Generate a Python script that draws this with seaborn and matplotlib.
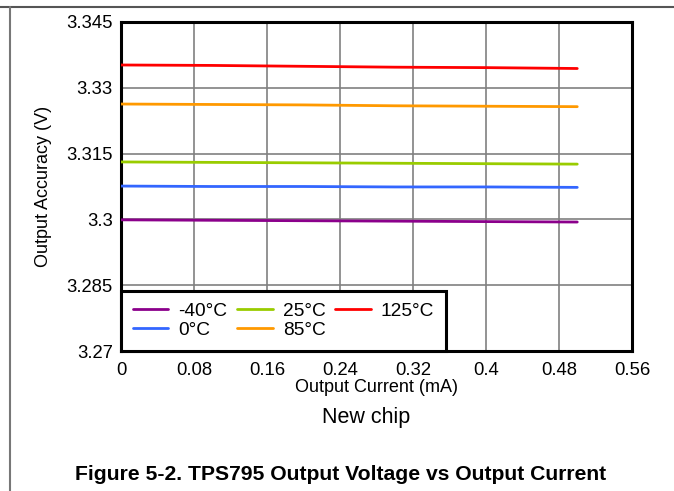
import matplotlib
matplotlib.use("Agg")
import matplotlib.pyplot as plt
import seaborn as sns
import pandas as pd
from matplotlib.lines import Line2D

current_ma = [0.0, 0.1, 0.2, 0.3, 0.4, 0.5]
v_m40 = [3.2999, 3.2998, 3.2997, 3.2996, 3.2995, 3.2994]
v_0 = [3.3076, 3.3075, 3.3075, 3.3074, 3.3074, 3.3073]
v_25 = [3.3131, 3.3130, 3.3129, 3.3128, 3.3127, 3.3126]
v_85 = [3.3263, 3.3262, 3.3261, 3.3259, 3.3258, 3.3257]
v_125 = [3.3352, 3.3351, 3.3349, 3.3347, 3.3346, 3.3344]
series_labels = ["-40°C", "0°C", "25°C", "85°C", "125°C"]
series_colors = ["#8B008B", "#3366FF", "#99CC00", "#FF9900", "#FF0000"]
x_ticks = [0, 0.08, 0.16, 0.24, 0.32, 0.4, 0.48, 0.56]
x_tick_labels = ["0", "0.08", "0.16", "0.24", "0.32", "0.4", "0.48", "0.56"]
y_ticks = [3.27, 3.285, 3.3, 3.315, 3.33, 3.345]
y_tick_labels = ["3.27", "3.285", "3.3", "3.315", "3.33", "3.345"]

rows = []
for lab, vals in zip(series_labels, [v_m40, v_0, v_25, v_85, v_125]):
    for x, v in zip(current_ma, vals):
        rows.append({"I": x, "V": v, "T": lab})
df = pd.DataFrame(rows)

sns.set_theme(style="white")
plt.rcParams["font.family"] = ["Liberation Sans", "DejaVu Sans"]
plt.rcParams["text.color"] = "black"
plt.rcParams["axes.labelcolor"] = "black"

fig = plt.figure(figsize=(6.74, 4.91), dpi=100)
ax = fig.add_axes([121 / 674, 1 - 351 / 491, (632 - 121) / 674, (351 - 22) / 491])

sns.lineplot(data=df, x="I", y="V", hue="T", hue_order=series_labels,
             palette=series_colors, linewidth=2, ax=ax, legend=False, zorder=3)

ax.set_xlim(0, 0.56)
ax.set_ylim(3.27, 3.345)
ax.set_xticks(x_ticks)
ax.set_xticklabels(x_tick_labels, fontsize=13.3, color="black")
ax.set_yticks(y_ticks)
ax.set_yticklabels(y_tick_labels, fontsize=13.3, color="black")
ax.tick_params(axis="x", length=0, pad=8)
ax.tick_params(axis="y", length=0, pad=6)
ax.grid(True, color="#808080", linewidth=1.2)
for s in ax.spines.values():
    s.set_visible(True)
    s.set_color("black")
    s.set_linewidth(2.2)
ax.set_xlabel("Output Current (mA)", fontsize=13, labelpad=0, color="black")
ax.set_ylabel("Output Accuracy (V)", fontsize=13, labelpad=10, color="black")

handles = [Line2D([0], [0], color=c, lw=2) for c in series_colors]
leg = ax.legend(handles, series_labels, ncol=3, loc="lower left",
                bbox_to_anchor=(0, 0), fontsize=13.8, frameon=True,
                fancybox=False, handlelength=1.85, handletextpad=0.52,
                columnspacing=0.52, labelspacing=0.08, borderpad=0.62,
                borderaxespad=0)
leg.get_frame().set_edgecolor("black")
leg.get_frame().set_linewidth(2.2)
leg.get_frame().set_alpha(1)

fig.text(366 / 674, 1 - 418 / 491, "New chip", ha="center", va="center", fontsize=15.5)
fig.text(341 / 674, 1 - 475 / 491, "Figure 5-2. TPS795 Output Voltage vs Output Current",
         ha="center", va="center", fontsize=15.2, fontweight="bold")

fig.add_artist(Line2D([0, 1], [1 - 6.5 / 491, 1 - 6.5 / 491], color="#555555", lw=1.5))
fig.add_artist(Line2D([10 / 674, 10 / 674], [0, 1 - 6.5 / 491], color="#777777", lw=1.5))

fig.savefig("out.png", dpi=100)
